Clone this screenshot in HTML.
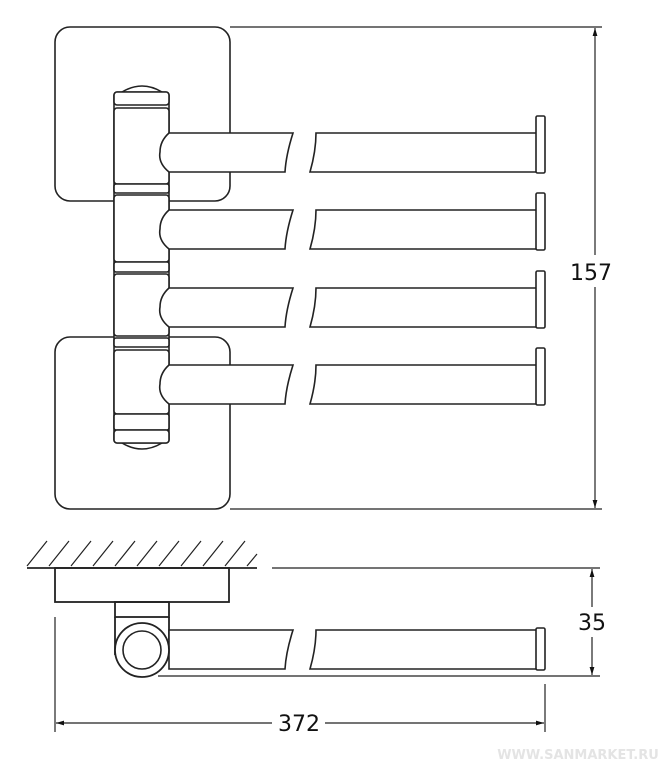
<!DOCTYPE html>
<html><head><meta charset="utf-8"><style>
html,body{margin:0;padding:0;background:#fff;}
svg{display:block;}
text{font-family:"DejaVu Sans","Liberation Sans",sans-serif;}
</style></head><body>
<svg width="658" height="769" viewBox="0 0 658 769" xmlns="http://www.w3.org/2000/svg">
<defs>
<marker id="ar" viewBox="0 0 10 10" refX="10" refY="5" markerWidth="12" markerHeight="8" markerUnits="userSpaceOnUse" orient="auto-start-reverse">
<path d="M0,2 L10,5 L0,8 Z" fill="#111"/></marker>
<g id="bar">
<!-- first piece -->
<path d="M169,0 L293,0 Q286,22 285,39 L169,39 Q158,30 160,19 Q160,8 169,0 Z" fill="#fff" stroke="#222" stroke-width="1.6"/>
<!-- second piece -->
<path d="M316,0 L537,0 L537,39 L310,39 Q316,18 316,0 Z" fill="#fff" stroke="#222" stroke-width="1.6"/>
<rect x="536" y="-17" width="9" height="57" rx="1.5" fill="#fff" stroke="#222" stroke-width="1.6"/>
</g>
</defs>
<g fill="none" stroke="#222" stroke-width="1.6">
<!-- plates -->
<rect x="55" y="27" width="175" height="174" rx="15"/>
<rect x="55" y="337" width="175" height="172" rx="15"/>
</g>
<!-- column -->
<g stroke="#222" stroke-width="1.6" fill="#fff">
<path d="M122,92 Q142,80 162,92" fill="none"/>
<path d="M122,443 Q142,455 162,443" fill="none"/>
<rect x="114" y="92" width="55" height="351" rx="3"/>
<rect x="114" y="92" width="55" height="13" rx="3"/>
<rect x="114" y="108" width="55" height="76" rx="3"/>
<rect x="114" y="184" width="55" height="9" rx="2"/>
<rect x="114" y="195" width="55" height="67" rx="3"/>
<rect x="114" y="262" width="55" height="10" rx="2"/>
<rect x="114" y="274" width="55" height="62" rx="3"/>
<rect x="114" y="338" width="55" height="9" rx="2"/>
<rect x="114" y="350" width="55" height="64" rx="3"/>
<rect x="114" y="414" width="55" height="16" rx="2"/>
<rect x="114" y="430" width="55" height="13" rx="3"/>
</g>
<use href="#bar" y="133"/>
<use href="#bar" y="210"/>
<use href="#bar" y="288"/>
<use href="#bar" y="365"/>
<!-- 157 dimension -->
<g stroke="#222" stroke-width="1.2" fill="none">
<line x1="230" y1="27" x2="602" y2="27"/>
<line x1="230" y1="509" x2="602" y2="509"/>
<line x1="595" y1="28" x2="595" y2="255" marker-start="url(#ar)"/>
<line x1="595" y1="287" x2="595" y2="508" marker-end="url(#ar)"/>
</g>
<text x="591" y="280" font-size="22" text-anchor="middle" fill="#111">157</text>
<!-- side view -->
<g stroke="#222" stroke-width="1.4" fill="none">
<line x1="27" y1="568" x2="257" y2="568" stroke-width="1.8"/>
<line x1="272" y1="568" x2="600" y2="568" stroke-width="1.2"/>
<path d="M27,566 L47,541 M49,566 L69,541 M71,566 L91,541 M93,566 L113,541 M115,566 L135,541 M137,566 L157,541 M159,566 L179,541 M181,566 L201,541 M203,566 L223,541 M225,566 L245,541 M247,566 L257,554" stroke-width="1.2"/>
<rect x="55" y="568" width="174" height="34" stroke-width="1.8"/>
<rect x="115" y="602" width="54" height="15" stroke-width="1.8"/>
<line x1="115" y1="617" x2="115" y2="655" stroke-width="1.8"/>
<line x1="169" y1="617" x2="169" y2="640" stroke-width="1.8"/>
</g>
<path d="M169,630 L293,630 Q286,652 285,669 L169,669 Z" fill="#fff" stroke="#222" stroke-width="1.6"/>
<path d="M316,630 L537,630 L537,669 L310,669 Q316,648 316,630 Z" fill="#fff" stroke="#222" stroke-width="1.6"/>
<rect x="536" y="628" width="9" height="42" rx="1.5" fill="#fff" stroke="#222" stroke-width="1.6"/>
<circle cx="142" cy="650" r="27" fill="#fff" stroke="#222" stroke-width="1.8"/>
<circle cx="142" cy="650" r="19" fill="#fff" stroke="#222" stroke-width="1.6"/>
<g stroke="#222" stroke-width="1.2" fill="none">
<line x1="158" y1="676" x2="600" y2="676"/>
<line x1="592" y1="569" x2="592" y2="607" marker-start="url(#ar)"/>
<line x1="592" y1="637" x2="592" y2="675" marker-end="url(#ar)"/>
<line x1="55" y1="617" x2="55" y2="732"/>
<line x1="545" y1="684" x2="545" y2="732"/>
<line x1="56" y1="723" x2="272" y2="723" marker-start="url(#ar)"/>
<line x1="325" y1="723" x2="544" y2="723" marker-end="url(#ar)"/>
</g>
<text x="592" y="630" font-size="22" text-anchor="middle" fill="#111">35</text>
<text x="299" y="731" font-size="22" text-anchor="middle" fill="#111">372</text>
<text x="578" y="759" font-size="13" text-anchor="middle" fill="#e4e4e4" font-weight="bold">WWW.SANMARKET.RU</text>
</svg>
</body></html>
